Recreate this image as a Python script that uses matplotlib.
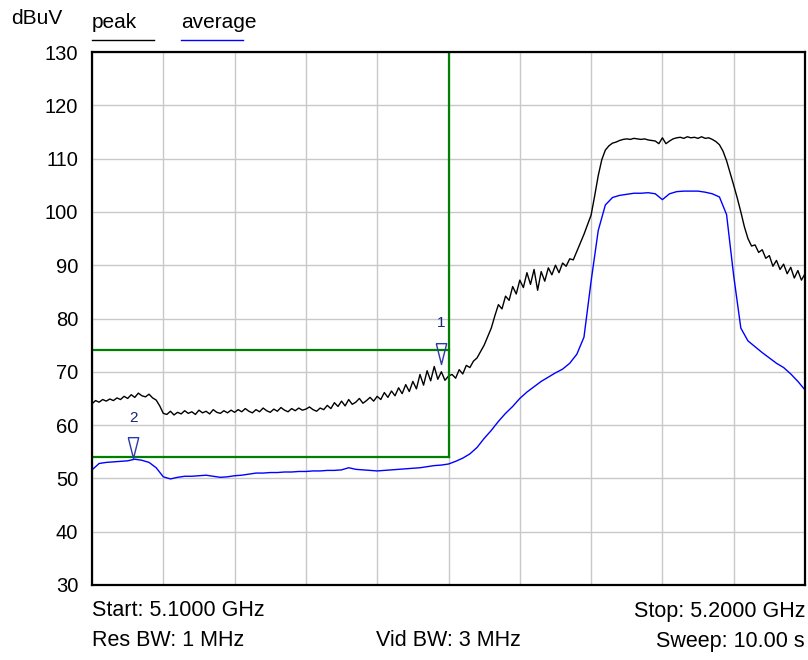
import matplotlib.pyplot as plt
import numpy as np
from matplotlib.lines import Line2D

plt.rcParams['font.family'] = ['Liberation Sans', 'DejaVu Sans']

# Frequency span (GHz)
f_start = 5.1
f_stop = 5.2

# Peak trace, 0.5 MHz steps from 5.1000 GHz
peak = [
    64.0, 64.6, 64.3, 64.8, 64.5, 64.9, 64.6, 65.1, 64.8, 65.4, 65.0,
    65.7, 65.2, 66.0, 65.5, 65.3, 65.8, 65.1, 64.7, 63.6, 62.2,
    62.0, 62.6, 61.9, 62.4, 62.1, 62.7, 62.2, 62.5, 62.0, 62.8,
    62.3, 62.6, 62.1, 62.9, 62.4, 62.2, 62.7, 62.3, 62.8, 62.4,
    62.9, 62.5, 63.1, 62.6, 62.3, 62.9, 62.5, 63.2, 62.7, 62.4,
    63.0, 62.6, 63.3, 62.8, 62.5, 63.1, 62.7, 63.2, 62.8, 63.0,
    63.4, 62.9, 62.6, 63.2, 62.9, 63.7, 63.1, 64.2, 63.5, 64.5,
    63.6, 64.8, 63.9, 64.3, 65.0, 64.1, 64.6, 65.2, 64.5, 65.4,
    64.8, 66.1, 65.2, 66.4, 65.5, 67.0, 65.9, 67.6, 66.3, 68.2,
    66.8, 69.5, 67.5, 70.2, 68.3, 71.0, 68.6, 70.0, 68.4, 69.2,
    69.5, 68.8, 70.4, 69.6, 71.2, 70.8, 72.0, 72.6, 73.8, 75.0,
    76.6, 78.2, 80.5, 82.6, 81.8, 84.2, 83.4, 86.0, 84.6, 87.2,
    85.8, 88.6, 86.4, 89.2, 85.3, 88.8, 87.0, 89.5, 88.2, 90.0,
    88.6, 90.4, 89.8, 91.2, 91.0, 92.6, 94.2, 95.8, 97.6, 99.4,
    103.0, 106.8, 109.8, 111.6, 112.4, 112.9, 113.1, 113.4, 113.6, 113.7,
    113.6, 113.8, 113.7, 113.6, 113.7, 113.5, 113.4, 113.3, 112.8, 113.9,
    112.8, 113.3, 113.7, 113.9, 114.0, 113.8, 114.1, 113.9, 114.0, 113.8,
    114.1, 113.8, 113.9, 113.6, 113.2, 112.6, 111.4, 109.6, 107.3, 105.0,
    102.6, 100.0, 97.2, 95.0, 93.6, 93.8, 92.4, 92.9, 91.3, 91.8,
    89.8, 90.9, 89.2, 90.2, 88.4, 89.6, 87.6, 89.0, 87.2, 88.4,
]

# Average trace, 1 MHz steps from 5.1000 GHz
average = [
    51.6, 52.8, 53.0, 53.1, 53.2, 53.3, 53.6, 53.4, 53.0, 52.0,
    50.3, 49.9, 50.2, 50.4, 50.4, 50.5, 50.6, 50.4, 50.2, 50.3,
    50.5, 50.6, 50.8, 51.0, 51.0, 51.1, 51.1, 51.2, 51.2, 51.3,
    51.3, 51.4, 51.4, 51.5, 51.5, 51.6, 52.0, 51.7, 51.6, 51.5,
    51.4, 51.5, 51.6, 51.7, 51.8, 51.9, 52.0, 52.2, 52.4, 52.5,
    52.7, 53.2, 53.8, 54.6, 55.8, 57.5, 59.0, 60.7, 62.2, 63.5,
    65.0, 66.2, 67.2, 68.2, 69.0, 69.8, 70.5, 71.6, 73.3, 76.5,
    87.0, 96.5, 101.3, 102.7, 103.1, 103.3, 103.5, 103.5, 103.6, 103.4,
    102.3, 103.4, 103.8, 103.9, 103.9, 103.9, 103.7, 103.4, 102.8, 99.5,
    88.0, 78.2, 75.8, 74.7, 73.6, 72.6, 71.6, 70.8, 69.6, 68.2,
    66.6,
]

# Limit lines
limit_edge = 5.15
limit_peak = 74
limit_avg = 54

# Markers: (label, frequency GHz, level dBuV)
markers = [("1", 5.1489, 71.5), ("2", 5.1058, 53.8)]

freq_peak = f_start + np.arange(len(peak)) * 0.0005
freq_avg = f_start + np.arange(len(average)) * 0.001

fig = plt.figure(figsize=(8.08, 6.6), dpi=100)
ax = fig.add_axes([92 / 808, 75 / 660, 713 / 808, 533 / 660])

ax.plot(freq_peak, peak, color="black", lw=1.0)
ax.plot(freq_avg, average, color="#0000ff", lw=1.0)

green = "#008000"
ax.plot([f_start, limit_edge], [limit_peak, limit_peak], color=green, lw=1.6)
ax.plot([f_start, limit_edge], [limit_avg, limit_avg], color=green, lw=1.6)
ax.plot([limit_edge, limit_edge], [limit_avg, 130], color=green, lw=1.6)

tri = [(-0.25, 1), (0.25, 1), (0, 0), (-0.25, 1)]
for lbl, f, lvl in markers:
    ax.plot(f, lvl, marker=tri, markersize=30, markerfacecolor="none",
            markeredgecolor="#2a3aa8", markeredgewidth=1.0, linestyle="none")
    ax.annotate(lbl, (f, lvl), xytext=(0, 24), textcoords="offset points",
                ha="center", va="bottom", fontsize=11, color="#1a237e")

ax.set_xlim(f_start, f_stop)
ax.set_ylim(30, 130)
ax.set_xticks(np.linspace(f_start, f_stop, 11))
ax.set_yticks(np.arange(30, 131, 10))
ax.set_xticklabels([])
ax.tick_params(length=0, labelsize=14.5, pad=10)
ax.grid(True, color="#c8c8c8", lw=1.0)
ax.set_axisbelow(True)
for s in ax.spines.values():
    s.set_linewidth(1.6)

# Header texts
fig.text(11 / 808, 1 - 19 / 660, "dBuV", fontsize=15, va="center", ha="left")
fig.text(92 / 808, 1 - 22 / 660, "peak", fontsize=15, va="center", ha="left")
fig.text(181 / 808, 1 - 22 / 660, "average", fontsize=15, va="center", ha="left")
fig.add_artist(Line2D([92 / 808, 154 / 808], [1 - 40 / 660] * 2, color="black", lw=1.0))
fig.add_artist(Line2D([181 / 808, 243 / 808], [1 - 40 / 660] * 2, color="#0000ff", lw=1.0))

# Footer texts
fig.text(92 / 808, 1 - 611 / 660, "Start: 5.1000 GHz", fontsize=15.5, va="center", ha="left")
fig.text(805 / 808, 1 - 611 / 660, "Stop: 5.2000 GHz", fontsize=15.5, va="center", ha="right")
fig.text(92 / 808, 1 - 641 / 660, "Res BW: 1 MHz", fontsize=15.5, va="center", ha="left")
fig.text(448 / 808, 1 - 641 / 660, "Vid BW: 3 MHz", fontsize=15.5, va="center", ha="center")
fig.text(805 / 808, 1 - 641 / 660, "Sweep: 10.00 s", fontsize=15.5, va="center", ha="right")

fig.savefig("out.png", dpi=100)
